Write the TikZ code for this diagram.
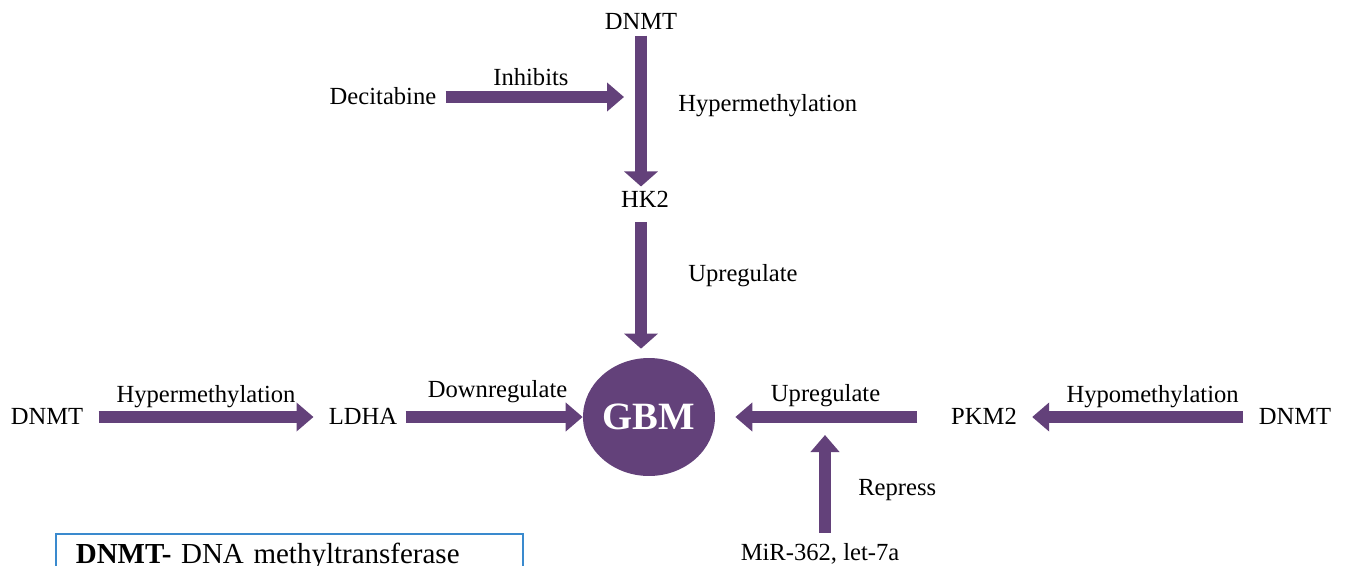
\documentclass[tikz,border=0pt]{standalone}
\usepackage{fontspec}
\setmainfont{Liberation Serif}
\usetikzlibrary{shapes.geometric,arrows.meta}
\definecolor{arrowpurple}{RGB}{99,65,122}
\definecolor{frameblue}{RGB}{58,138,206}
\tikzstyle{txt} = [font=\fontsize{14}{17}\selectfont, inner xsep=0.3cm, inner ysep=3pt,
    text height=0.9em, text depth=0em]
\tikzstyle{note} = [font=\fontsize{14}{17}\selectfont, inner sep=3pt,
    text height=0.9em, text depth=0em]
\tikzstyle{fat} = [draw=arrowpurple, line width=0.24cm, -{Triangle[width=0.56cm,length=0.34cm]}]
\tikzstyle{vfat} = [fat, -{Triangle[width=0.66cm,length=0.3cm]}]

\begin{document}
\begin{tikzpicture}[x=0.02cm, y=-0.02cm]
		\useasboundingbox (0,0) rectangle (1349,565);
		\clip (0,0) rectangle (1349,565);
		\node [txt] (dnmtTop) at (641,22) {DNMT};
		\node [txt] (decitabine) at (383,97) {Decitabine};
		\node [txt] (hk2) at (645,200) {HK2};
		\node [ellipse, fill=arrowpurple, minimum width=2.64cm, minimum height=2.36cm, inner sep=0pt,
			font=\fontsize{22}{26}\selectfont\bfseries, text=white] (gbm) at (649,417) {GBM};
		\node [txt] (dnmtL) at (47,417) {DNMT};
		\node [txt] (ldha) at (363,417) {LDHA};
		\node [txt] (pkm2) at (984,417) {PKM2};
		\node [txt] (dnmtR) at (1295,417) {DNMT};
		\node [txt] (mir) at (820,553) {MiR-362, let-7a};
		\coordinate (inhibit) at (624,97);
		\coordinate (repress) at (825,435);
		
		\path [vfat] (dnmtTop.south) -- node [note, right=0.52cm, pos=0.45] {Hypermethylation} (dnmtTop.south |- hk2.north);
		\path [fat, shorten <=-0.12cm] (decitabine) -- node [note, above, pos=0.46] {Inhibits} (inhibit);
		\path [vfat, shorten <=0.17cm, shorten >=0.18cm] (hk2.south -| dnmtTop) -- node [note, right=0.72cm, pos=0.42] {Upregulate} (gbm.north -| dnmtTop);
		\path [fat] (dnmtL) -- node [note, above=0.06cm] {Hypermethylation} (ldha);
		\path [fat, shorten <=-0.14cm] (ldha) -- node [note, above=0.16cm] {Downregulate} (gbm);
		\path [fat, shorten <=0.37cm, shorten >=0.4cm] (pkm2) -- node [note, above=0.08cm] {Upregulate} (gbm);
		\path [fat] (dnmtR) -- node [note, above=0.06cm, pos=0.43] {Hypomethylation} (pkm2);
		\path [fat, shorten <=0.13cm] (mir.north -| repress) -- node [note, right=0.44cm] {Repress} (repress);
		
		% legend
		\node [note, draw=frameblue, line width=1pt, anchor=north west, text width=8.54cm, inner xsep=0.4cm,
			inner ysep=0.28cm, text depth=1.2cm, align=left, font=\fontsize{16.5}{20}\selectfont]
			(legend) at (55,533) {\textbf{DNMT-} DNA methyltransferase};
	\end{tikzpicture}
\end{document}
